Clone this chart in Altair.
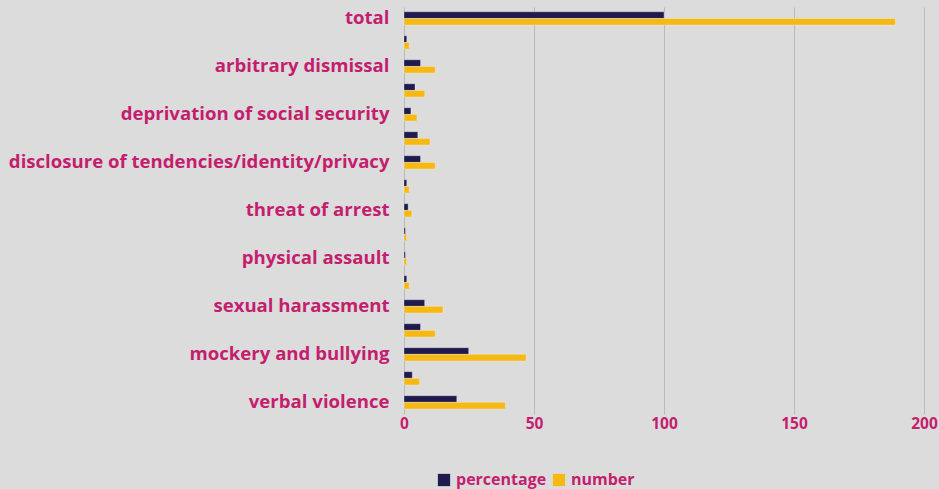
import altair as alt
import pandas as pd

# Categories listed top to bottom; only every other one carries a visible axis label
categories = [
    "total",
    "forced resignation",
    "arbitrary dismissal",
    "denial of promotion",
    "deprivation of social security",
    "wage discrimination",
    "disclosure of tendencies/identity/privacy",
    "blackmail",
    "threat of arrest",
    "detention",
    "physical assault",
    "threats of violence",
    "sexual harassment",
    "exclusion and isolation",
    "mockery and bullying",
    "hate speech",
    "verbal violence",
]
shown_labels = categories[::2]

percentage = [100, 1.06, 6.35, 4.23, 2.65, 5.29, 6.35, 1.06, 1.59, 0.53, 0.53, 1.06,
              7.94, 6.35, 24.87, 3.17, 20.3]
number = [189, 2, 12, 8, 5, 10, 12, 2, 3, 1, 1, 2, 15, 12, 47, 6, 39]

series_names = ["percentage", "number"]
series_colors = ["#1f1b4e", "#f6b913"]

rows = []
for cat, p, n in zip(categories, percentage, number):
    rows.append({"category": cat, "series": "percentage", "value": p})
    rows.append({"category": cat, "series": "number", "value": n})
df = pd.DataFrame(rows)

TEXT = "#c41e6e"
FONT = "Open Sans"

chart = (
    alt.Chart(df)
    .mark_bar(stroke="#ffffff", strokeOpacity=0.3, strokeWidth=1)
    .encode(
        y=alt.Y(
            "category:N",
            sort=categories,
            title=None,
            scale=alt.Scale(paddingInner=0.445, paddingOuter=0.1, align=1),
            axis=alt.Axis(
                values=shown_labels,
                ticks=False,
                domain=False,
                grid=False,
                labelPadding=15,
                labelFontSize=18.6,
                labelFont=FONT,
                labelFontWeight="bold",
                labelColor=TEXT,
                labelLimit=420,
            ),
        ),
        yOffset=alt.YOffset("series:N", sort=series_names),
        x=alt.X(
            "value:Q",
            title=None,
            scale=alt.Scale(domain=[0, 200], nice=False),
            axis=alt.Axis(
                values=[0, 50, 100, 150, 200],
                grid=True,
                gridColor="#b9b9b9",
                gridWidth=1,
                domain=False,
                ticks=True,
                tickColor="#b9b9b9",
                tickSize=5,
                labelPadding=2,
                labelFlush=False,
                labelFontSize=15.5,
                labelFont=FONT,
                labelFontWeight="bold",
                labelColor=TEXT,
            ),
        ),
        color=alt.Color(
            "series:N",
            sort=series_names,
            scale=alt.Scale(domain=series_names, range=series_colors),
            legend=alt.Legend(
                title=None,
                orient="none",
                direction="horizontal",
                legendX=32,
                legendY=465,
                symbolType="square",
                symbolSize=150,
                symbolStrokeWidth=0,
                labelFontSize=16,
                labelFont=FONT,
                labelFontWeight="bold",
                labelColor=TEXT,
                columnPadding=4,
                labelOffset=4,
            ),
        ),
    )
    .properties(
        width=520,
        height=402,
        background="#dcdcdc",
        padding={"left": 404, "top": 7, "right": 15, "bottom": 80},
        autosize=alt.AutoSizeParams(type="none"),
    )
    .configure_view(stroke=None)
)

chart.save("out.html", embed_options={"renderer": "svg", "actions": False})
